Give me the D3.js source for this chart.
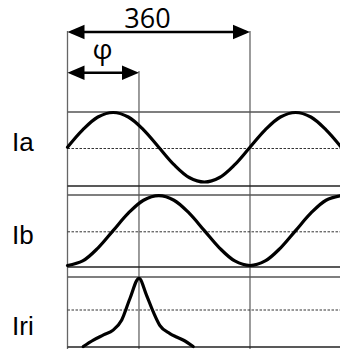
<!DOCTYPE html>
<html>
<head>
<meta charset="utf-8">
<script src="https://cdn.jsdelivr.net/npm/d3@7"></script>
<style>
  html, body { margin: 0; padding: 0; background: #fff; }
  svg { display: block; }
  text { font-family: "Liberation Sans", Arial, sans-serif; fill: #000; }
  text.dim { font-family: "Open Sans", "Liberation Sans", sans-serif; }
</style>
</head>
<body>
<script>
// ---- data ----
const angles   = [0, 30, 60, 90, 120, 150, 180, 210, 240, 270, 300, 330, 360, 390, 420, 450, 480, 510, 540];
const iaValues = [0, 0.5, 0.87, 1, 0.87, 0.5, 0, -0.5, -0.87, -1, -0.87, -0.5, 0, 0.5, 0.87, 1, 0.87, 0.5, 0];
const ibValues = [-1, -0.87, -0.5, 0, 0.5, 0.87, 1, 0.87, 0.5, 0, -0.5, -0.87, -1, -0.87, -0.5, 0, 0.5, 0.87, 1];
const iriAngles = [31, 51, 71, 90, 107, 123, 141, 156, 169, 182, 202, 215, 228, 248];
const iriValues = [0, 0.095, 0.17, 0.24, 0.39, 0.70, 1.0, 0.75, 0.51, 0.31, 0.19, 0.14, 0.095, 0];
const seriesLabels = ["Ia", "Ib", "Iri"];
const periodAngle = 360;
const phaseAngle = 141;
const periodLabel = "360";
const phaseLabel = "φ";

// ---- layout ----
const W = 340, H = 349;
const svg = d3.select("body").append("svg").attr("width", W).attr("height", H);

const x = d3.scaleLinear().domain([0, 360]).range([67.5, 250]);
const xEnd = 340;

const panels = [
  { label: seriesLabels[0], top: 112, bottom: 186, mid: 148.5, domain: [-1, 1], range: [182, 112.5], labelY: 151,
    pts: angles.map((a, i) => [a, iaValues[i]]) },
  { label: seriesLabels[1], top: 195, bottom: 267, mid: 231.8, domain: [-1, 1], range: [265.5, 195.7], labelY: 244,
    pts: angles.map((a, i) => [a, ibValues[i]]) },
  { label: seriesLabels[2], top: 277, bottom: 347, mid: 310, domain: [0, 1], range: [346.5, 278.3], labelY: 335,
    pts: iriAngles.map((a, i) => [a, iriValues[i]]) }
];

// vertical reference lines
const vlines = [
  { a: 0, y1: 31 },
  { a: phaseAngle, y1: 71 },
  { a: periodAngle, y1: 31 }
];
svg.selectAll("line.v").data(vlines).enter().append("line")
  .attr("class", "v")
  .attr("x1", d => x(d.a)).attr("x2", d => x(d.a))
  .attr("y1", d => d.y1).attr("y2", H)
  .attr("stroke", "#666").attr("stroke-width", 1.3);

panels.forEach(p => {
  const y = d3.scaleLinear().domain(p.domain).range(p.range);
  svg.append("line").attr("x1", x(0)).attr("x2", xEnd).attr("y1", p.top).attr("y2", p.top)
    .attr("stroke", "#555").attr("stroke-width", 1.3);
  svg.append("line").attr("x1", x(0)).attr("x2", xEnd).attr("y1", p.bottom).attr("y2", p.bottom)
    .attr("stroke", "#222").attr("stroke-width", 1.3);
  svg.append("line").attr("x1", x(0)).attr("x2", xEnd).attr("y1", p.mid).attr("y2", p.mid)
    .attr("stroke", "#333").attr("stroke-width", 1).attr("stroke-dasharray", "2.5,1.5");
  const line = d3.line().x(d => x(d[0])).y(d => y(d[1]))
    .curve(p.label === "Iri" ? d3.curveMonotoneX : d3.curveCatmullRom);
  svg.append("path").datum(p.pts).attr("d", line)
    .attr("fill", "none").attr("stroke", "#000").attr("stroke-width", 3.2)
    .attr("stroke-linejoin", "round").attr("stroke-linecap", "round");
  svg.append("text").attr("x", 12).attr("y", p.labelY).attr("font-size", 26).text(p.label);
});

// dimension arrows
function dimArrow(a0, a1, yy) {
  const x0 = x(a0), x1 = x(a1), L = 17, h = 7.2;
  svg.append("line").attr("x1", x0 + 4).attr("x2", x1 - 4).attr("y1", yy).attr("y2", yy)
    .attr("stroke", "#000").attr("stroke-width", 2.6);
  svg.append("path").attr("d", `M${x0},${yy}L${x0 + L},${yy - h}L${x0 + L},${yy + h}Z`).attr("fill", "#000");
  svg.append("path").attr("d", `M${x1},${yy}L${x1 - L},${yy - h}L${x1 - L},${yy + h}Z`).attr("fill", "#000");
}
dimArrow(0, periodAngle, 32);
dimArrow(0, phaseAngle, 72.7);

svg.append("text").attr("class", "dim").attr("x", x(0) + 80).attr("y", 27.5)
  .attr("text-anchor", "middle").attr("font-size", 27).text(periodLabel);
svg.append("text").attr("class", "dim").attr("x", 102.5).attr("y", 59)
  .attr("text-anchor", "middle").attr("font-size", 28).text(phaseLabel);
</script>
</body>
</html>
